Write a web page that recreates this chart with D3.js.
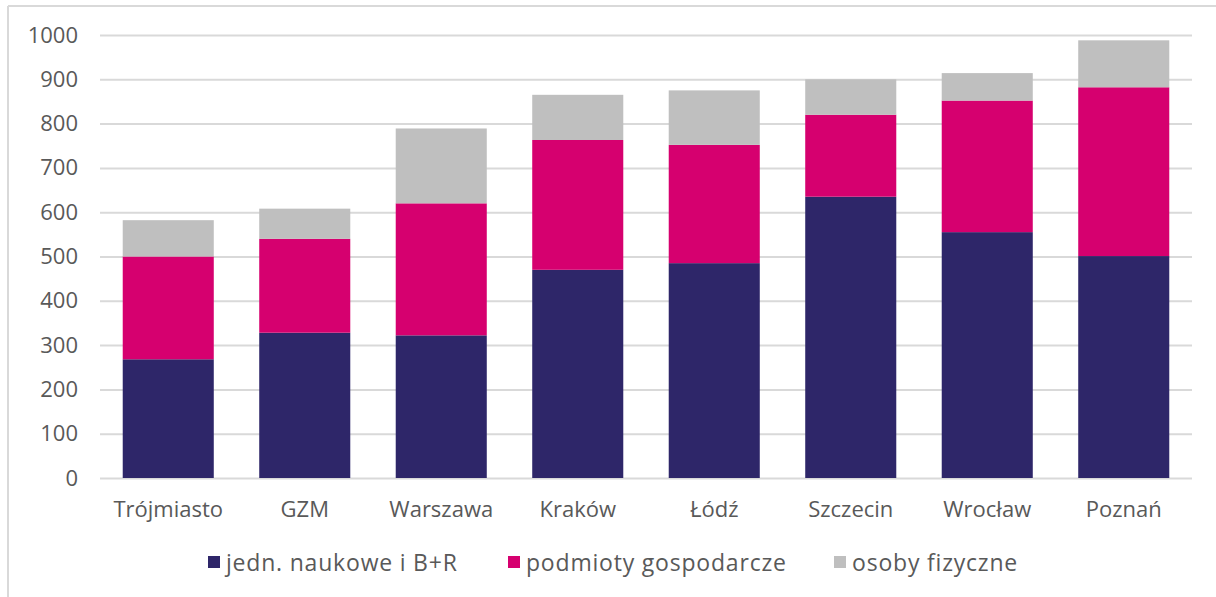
<!DOCTYPE html>
<html><head><meta charset="utf-8">
<script src="https://cdn.jsdelivr.net/npm/d3@7"></script>
<style>body{margin:0;background:#fff}svg{display:block}text{font-family:"Open Sans",sans-serif;fill:#595959}</style>
</head><body><svg id="c" width="1216" height="597"></svg>
<script>
const categories = ["Trójmiasto","GZM","Warszawa","Kraków","Łódź","Szczecin","Wrocław","Poznań"];
const seriesNames = ["jedn. naukowe i B+R","podmioty gospodarcze","osoby fizyczne"];
const naukowe = [268,328,322,470,485,635,555,501];
const podmioty = [232,212,298,293,267,185,297,381];
const osoby = [82,68,169,102,123,80,62,106];
const yTicks = [0,100,200,300,400,500,600,700,800,900,1000];
const colors = ["#2e2669","#d6006f","#bfbfbf"];

const svg = d3.select("#c");
const x = d3.scaleBand().domain(categories).range([100,1192]).paddingInner(0.333).paddingOuter(0.1665);
const y = d3.scaleLinear().domain([0,1000]).range([478,35]);

// frame
svg.append("line").attr("x1",8).attr("x2",1216).attr("y1",6).attr("y2",6).attr("stroke","#d9d9d9").attr("stroke-width",2);
svg.append("line").attr("x1",8).attr("x2",8).attr("y1",6).attr("y2",597).attr("stroke","#d9d9d9").attr("stroke-width",2);

// grid
const ya = d3.axisLeft(y).tickValues(yTicks).tickFormat(d3.format("d")).tickSize(-(1192-100)).tickPadding(22);
const gy = svg.append("g").attr("transform","translate(100,0)").call(ya);
gy.select(".domain").remove();
gy.selectAll(".tick line").attr("stroke","#d9d9d9").attr("stroke-width",2);
gy.selectAll(".tick text").attr("font-size",22).style("font-family",'"Open Sans",sans-serif').attr("fill","#595959").attr("x",-22);

const rows = categories.map((c,i)=>({cat:c, s0:naukowe[i], s1:podmioty[i], s2:osoby[i]}));
const stack = d3.stack().keys(["s0","s1","s2"])(rows);
svg.append("g").selectAll("g").data(stack).join("g").attr("fill",(d,i)=>colors[i])
  .selectAll("rect").data(d=>d).join("rect")
  .attr("x",d=>x(d.data.cat)).attr("width",x.bandwidth())
  .attr("y",d=>y(d[1])).attr("height",d=>y(d[0])-y(d[1]));

const xa = d3.axisBottom(x).tickSize(0).tickPadding(23);
const gx = svg.append("g").attr("transform","translate(0,478)").call(xa);
gx.select(".domain").remove();
gx.selectAll(".tick text").attr("font-size",22).style("font-family",'"Open Sans",sans-serif').attr("fill","#595959");

// legend
const legX = [208,508,834];
const lg = svg.append("g");
seriesNames.forEach((n,i)=>{
  lg.append("rect").attr("x",legX[i]).attr("y",556).attr("width",12).attr("height",12).attr("fill",colors[i]);
  lg.append("text").attr("x",legX[i]+18).attr("y",571).attr("font-size",23)
    .style("letter-spacing","0.8px").text(n);
});
</script></body></html>
